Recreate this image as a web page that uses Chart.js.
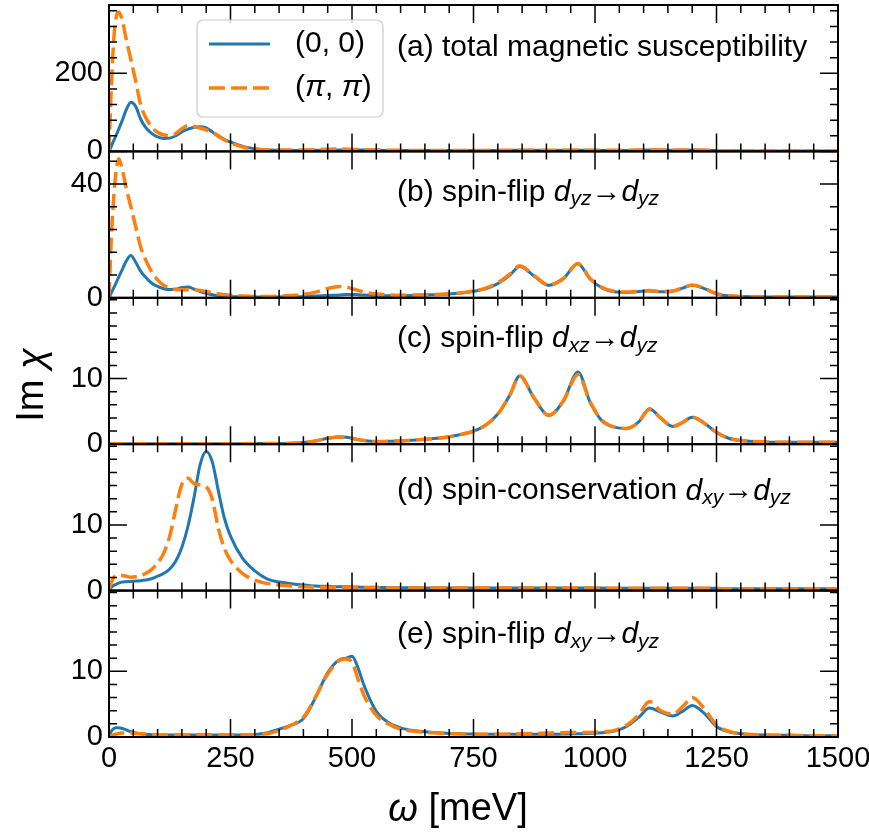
<!DOCTYPE html>
<html>
<head>
<meta charset="utf-8">
<script src="https://cdn.jsdelivr.net/npm/chart.js@4.4.1/dist/chart.umd.min.js"></script>
<style>
  html, body { margin: 0; padding: 0; background: #fff; }
</style>
</head>
<body>
<canvas id="chart" width="869" height="835"></canvas>
<script>
// energy grid (meV)
const omega = [
  0, 5, 10, 15, 20, 27.5, 35, 45, 55, 65,
  75, 87.5, 100, 112.5, 125, 137.5, 150, 162.5, 175, 187.5,
  200, 212.5, 225, 237.5, 250, 275, 300, 325, 350, 375,
  400, 425, 450, 475, 487.5, 500, 512.5, 525, 550, 575,
  600, 625, 650, 675, 700, 725, 750, 775, 800, 825,
  845, 875, 905, 935, 965, 990, 1015, 1040, 1065, 1090,
  1112, 1135, 1160, 1180, 1200, 1225, 1250, 1275, 1300, 1350,
  1400, 1450, 1500
];

// (a) total magnetic susceptibility
const aBlue = [
  0, 14, 28, 42, 57, 80, 105, 126, 115, 83,
  62, 46, 37, 33, 34, 40, 50, 57, 62, 63,
  60, 50, 38, 30, 24, 13, 7, 4, 3, 2.5,
  2.5, 2.8, 3.2, 3.6, 3.8, 3.8, 3.6, 3.3, 2.8, 2.5,
  2.3, 2.1, 2.0, 2.0, 2.0, 2.0, 2.1, 2.2, 2.4, 2.6,
  2.8, 2.7, 2.6, 2.7, 2.9, 2.8, 2.6, 2.5, 2.6, 3.0,
  3.6, 3.2, 2.8, 3.0, 3.3, 2.8, 2.0, 1.5, 1.2, 1.0,
  0.9, 0.8, 0.8
];
const aOrange = [
  0, 170, 290, 345, 357, 335, 290, 235, 180, 120,
  88, 63, 49, 42, 41, 46, 58, 66, 64, 60,
  55, 49, 40, 30, 22, 11, 6, 4, 3.5, 3.5,
  3.8, 4.5, 5.5, 6.0, 5.8, 5.3, 4.8, 4.2, 3.5, 3.0,
  2.7, 2.5, 2.4, 2.4, 2.4, 2.4, 2.5, 2.6, 2.8, 3.0,
  3.2, 3.0, 2.9, 3.0, 3.3, 3.1, 2.9, 2.8, 2.9, 3.4,
  4.2, 3.6, 3.1, 3.4, 3.8, 3.1, 2.2, 1.6, 1.3, 1.0,
  0.9, 0.8, 0.8
];

// (b) spin-flip dyz -> dyz
const bBlue = [
  0, 1.8, 3.6, 5.4, 7.3, 10, 12.8, 14.9, 12.5, 9.4,
  7.3, 5.2, 4.0, 3.2, 2.9, 3.0, 3.6, 3.8, 3.1, 2.2,
  1.6, 1.1, 0.8, 0.6, 0.5, 0.35, 0.3, 0.3, 0.3, 0.35,
  0.4, 0.6, 0.8, 1.0, 1.15, 1.2, 1.1, 0.95, 0.75, 0.7,
  0.7, 0.8, 1.0, 1.1, 1.35, 1.7, 2.3, 3.2, 5.0, 8.0,
  11.0, 7.6, 4.4, 6.8, 12.0, 6.6, 3.4, 2.1, 1.9, 2.2,
  2.4, 2.1, 2.3, 3.4, 4.4, 3.2, 1.4, 0.7, 0.45, 0.3,
  0.3, 0.3, 0.3
];
const bOrange = [
  0, 22, 36, 45, 48.9, 45, 39, 32, 25, 18,
  13.5, 9.2, 6.3, 4.4, 3.4, 2.9, 2.8, 2.8, 2.8, 2.6,
  2.2, 1.8, 1.4, 1.1, 0.9, 0.6, 0.5, 0.5, 0.6, 0.8,
  1.2, 2.0, 3.3, 4.0, 3.8, 3.2, 2.6, 2.0, 1.3, 1.0,
  0.9, 0.95, 1.05, 1.2, 1.4, 1.8, 2.4, 3.4, 5.3, 8.4,
  11.3, 7.8, 4.5, 6.8, 12.1, 6.8, 3.6, 2.3, 2.0, 2.3,
  2.6, 2.2, 2.4, 3.5, 4.5, 3.3, 1.5, 0.7, 0.45, 0.3,
  0.3, 0.3, 0.3
];

// (c) spin-flip dxz -> dyz
const cBlue = [
  0, 0.05, 0.05, 0.05, 0.05, 0.05, 0.05, 0.05, 0.05, 0.05,
  0.05, 0.05, 0.05, 0.05, 0.05, 0.05, 0.05, 0.05, 0.05, 0.05,
  0.05, 0.05, 0.05, 0.05, 0.05, 0.05, 0.1, 0.1, 0.1, 0.15,
  0.25, 0.5, 0.9, 1.1, 1.05, 0.9, 0.7, 0.55, 0.4, 0.45,
  0.5, 0.6, 0.75, 0.9, 1.15, 1.5, 2.0, 2.9, 4.6, 7.5,
  10.4, 7.0, 4.4, 6.6, 11.0, 6.4, 3.5, 2.6, 2.4, 3.4,
  5.4, 4.0, 2.7, 3.3, 4.1, 3.2, 1.8, 0.9, 0.55, 0.35,
  0.3, 0.3, 0.3
];
const cOrange = [
  0, 0.05, 0.05, 0.05, 0.05, 0.05, 0.05, 0.05, 0.05, 0.05,
  0.05, 0.05, 0.05, 0.05, 0.05, 0.05, 0.05, 0.05, 0.05, 0.05,
  0.05, 0.05, 0.05, 0.05, 0.05, 0.05, 0.1, 0.1, 0.1, 0.15,
  0.25, 0.5, 0.9, 1.1, 1.05, 0.9, 0.7, 0.55, 0.4, 0.45,
  0.5, 0.6, 0.75, 0.9, 1.15, 1.5, 2.0, 2.9, 4.6, 7.5,
  10.4, 7.0, 4.4, 6.6, 10.6, 6.4, 3.6, 2.6, 2.4, 3.4,
  5.3, 4.0, 2.7, 3.3, 4.1, 3.2, 1.8, 0.9, 0.55, 0.35,
  0.3, 0.3, 0.3
];

// (d) spin-conservation dxy -> dyz
const dBlue = [
  0, 0.5, 0.8, 1.0, 1.15, 1.3, 1.35, 1.4, 1.45, 1.5,
  1.6, 1.8, 2.2, 2.6, 3.3, 4.5, 6.6, 9.8, 14.2, 19.2,
  21.2, 19.6, 15.2, 11.0, 8.3, 4.9, 3.0, 1.8, 1.3, 1.05,
  0.85, 0.7, 0.65, 0.6, 0.6, 0.55, 0.55, 0.5, 0.5, 0.45,
  0.45, 0.45, 0.4, 0.4, 0.4, 0.4, 0.4, 0.4, 0.4, 0.4,
  0.4, 0.4, 0.4, 0.4, 0.4, 0.4, 0.4, 0.35, 0.35, 0.35,
  0.35, 0.35, 0.35, 0.35, 0.35, 0.35, 0.35, 0.3, 0.3, 0.3,
  0.3, 0.3, 0.3
];
const dOrange = [
  0, 1.3, 2.0, 2.3, 2.35, 2.3, 2.2, 2.05, 2.1, 2.3,
  2.6, 3.2, 4.2, 5.7, 8.3, 12.5, 16.2, 17.1, 16.3, 16.1,
  15.8, 13.9, 9.5, 6.4, 4.6, 2.6, 1.6, 1.1, 0.85, 0.7,
  0.6, 0.55, 0.5, 0.5, 0.5, 0.45, 0.45, 0.45, 0.45, 0.4,
  0.4, 0.4, 0.4, 0.4, 0.4, 0.4, 0.4, 0.4, 0.4, 0.4,
  0.4, 0.4, 0.4, 0.4, 0.4, 0.4, 0.35, 0.35, 0.35, 0.35,
  0.35, 0.35, 0.35, 0.35, 0.35, 0.35, 0.3, 0.3, 0.3, 0.3,
  0.3, 0.3, 0.3
];

// (e) spin-flip dxy -> dyz
const eBlue = [
  0, 0.9, 1.3, 1.4, 1.4, 1.3, 1.1, 0.8, 0.6, 0.5,
  0.4, 0.35, 0.3, 0.3, 0.3, 0.3, 0.3, 0.3, 0.3, 0.3,
  0.3, 0.3, 0.3, 0.3, 0.3, 0.3, 0.4, 0.6, 1.2, 1.8,
  2.8, 6.0, 9.8, 11.8, 12.0, 12.3, 10.5, 7.8, 3.9, 2.2,
  1.4, 1.0, 0.8, 0.65, 0.55, 0.5, 0.45, 0.4, 0.4, 0.4,
  0.4, 0.4, 0.4, 0.45, 0.5, 0.55, 0.65, 0.9, 1.6, 3.0,
  4.4, 3.8, 3.2, 3.9, 4.8, 3.6, 1.6, 0.8, 0.5, 0.3,
  0.25, 0.2, 0.2
];
const eOrange = [
  0, 0.2, 0.35, 0.45, 0.55, 0.6, 0.6, 0.6, 0.55, 0.5,
  0.45, 0.4, 0.35, 0.3, 0.3, 0.3, 0.3, 0.3, 0.3, 0.3,
  0.3, 0.3, 0.3, 0.3, 0.3, 0.3, 0.35, 0.5, 1.0, 1.8,
  3.0, 6.1, 9.6, 11.7, 11.9, 11.4, 8.8, 6.3, 3.3, 2.0,
  1.2, 0.9, 0.7, 0.6, 0.5, 0.45, 0.4, 0.4, 0.4, 0.45,
  0.5, 0.55, 0.6, 0.65, 0.7, 0.7, 0.8, 1.0, 1.8, 3.4,
  5.4, 4.0, 3.5, 4.6, 6.0, 4.3, 1.8, 0.9, 0.5, 0.3,
  0.25, 0.2, 0.2
];

const seriesLabels = ['(0, 0)', '(π, π)'];
const xTicks = [0, 250, 500, 750, 1000, 1250, 1500];

const FONT = '"Liberation Sans", Arial, sans-serif';
const BLUE = '#1f77b4';
const ORANGE = '#ff7f0e';

// one entry per stacked panel, top to bottom
const panels = [
  { id: 'ya', max: 375, majors: [0, 200], minor: 40, blue: aBlue, orange: aOrange, textDy: 43,
    text: [{ t: '(a) total magnetic susceptibility' }] },
  { id: 'yb', max: 51.5, majors: [0, 40], minor: 8, blue: bBlue, orange: bOrange, textDy: 41,
    text: [{ t: '(b) spin-flip ' }, { t: 'd', it: 1 }, { t: 'yz', it: 1, sub: 1 }, { t: '→' }, { t: 'd', it: 1 }, { t: 'yz', it: 1, sub: 1 }] },
  { id: 'yc', max: 22.3, majors: [0, 10], minor: 2, blue: cBlue, orange: cOrange, textDy: 41,
    text: [{ t: '(c) spin-flip ' }, { t: 'd', it: 1 }, { t: 'xz', it: 1, sub: 1 }, { t: '→' }, { t: 'd', it: 1 }, { t: 'yz', it: 1, sub: 1 }] },
  { id: 'yd', max: 22.3, majors: [0, 10], minor: 2, blue: dBlue, orange: dOrange, textDy: 47,
    text: [{ t: '(d) spin-conservation ' }, { t: 'd', it: 1 }, { t: 'xy', it: 1, sub: 1 }, { t: '→' }, { t: 'd', it: 1 }, { t: 'yz', it: 1, sub: 1 }] },
  { id: 'ye', max: 22.3, majors: [0, 10], minor: 2, blue: eBlue, orange: eOrange, textDy: 44,
    text: [{ t: '(e) spin-flip ' }, { t: 'd', it: 1 }, { t: 'xy', it: 1, sub: 1 }, { t: '→' }, { t: 'd', it: 1 }, { t: 'yz', it: 1, sub: 1 }] },
];

const pts = arr => omega.map((w, i) => ({ x: w, y: arr[i] }));

const datasets = [];
panels.forEach(p => {
  datasets.push({
    label: seriesLabels[0], yAxisID: p.id, data: pts(p.blue),
    borderColor: BLUE, borderWidth: 3, pointRadius: 0, order: 1,
    cubicInterpolationMode: 'monotone', fill: false
  });
  datasets.push({
    label: seriesLabels[1], yAxisID: p.id, data: pts(p.orange),
    borderColor: ORANGE, borderWidth: 3.5, borderDash: [16, 6], pointRadius: 0, order: 0,
    cubicInterpolationMode: 'monotone', fill: false
  });
});

const tickFont = { family: FONT, size: 29 };
const noPad = s => { s.paddingTop = 0; s.paddingBottom = 0; s.paddingLeft = 0; s.paddingRight = 0; };

const scales = {
  x: {
    type: 'linear', min: 0, max: 1500,
    grid: { display: false, drawTicks: false }, border: { display: false },
    ticks: { color: '#000', font: tickFont, padding: 5, maxRotation: 0, callback: v => String(v) },
    afterBuildTicks: s => { s.ticks = xTicks.map(v => ({ value: v })); },
    afterFit: s => { s.height = 98; noPad(s); }
  }
};
// layout puts the last left axis on top, so add them bottom-up
panels.slice().reverse().forEach(p => {
  scales[p.id] = {
    type: 'linear', position: 'left', stack: 'panels', stackWeight: 1,
    min: 0, max: p.max,
    grid: { display: false, drawTicks: false }, border: { display: false },
    ticks: { color: '#000', font: tickFont, padding: 6, callback: v => String(v) },
    afterBuildTicks: s => { s.ticks = p.majors.map(v => ({ value: v })); },
    afterFit: s => { s.width = 109; noPad(s); }
  };
});

function drawRich(ctx, segs, x, y, size) {
  segs.forEach(s => {
    const fs = s.sub ? size * 0.7 : size;
    ctx.font = (s.it ? 'italic ' : '') + fs + 'px ' + FONT;
    ctx.fillText(s.t, x, y + (s.sub ? size * 0.24 : 0));
    x += ctx.measureText(s.t).width;
  });
  return x;
}
function richWidth(ctx, segs, size) {
  let w = 0;
  segs.forEach(s => {
    const fs = s.sub ? size * 0.7 : size;
    ctx.font = (s.it ? 'italic ' : '') + fs + 'px ' + FONT;
    w += ctx.measureText(s.t).width;
  });
  return w;
}
// italic pi like mathtext
const labelSegs = str => str.split(/(π)/).filter(Boolean).map(t => (t === 'π' ? { t, it: 1 } : { t }));

const decor = {
  id: 'decor',
  afterDraw(chart) {
    const ctx = chart.ctx;
    const xs = chart.scales.x;
    const L = xs.left, R = xs.right;
    ctx.save();
    ctx.strokeStyle = '#000';
    ctx.fillStyle = '#000';

    panels.forEach(p => {
      const ys = chart.scales[p.id];
      const T = ys.top, B = ys.bottom;
      ctx.lineWidth = 1.5;
      ctx.beginPath();
      for (let v = 0; v <= 1500; v += 50) {
        const len = v % 250 === 0 ? 18 : 8;
        const px = xs.getPixelForValue(v);
        ctx.moveTo(px, B); ctx.lineTo(px, B - len);
        ctx.moveTo(px, T); ctx.lineTo(px, T + len);
      }
      for (let v = 0; v < p.max; v += p.minor) {
        const len = p.majors.includes(v) ? 18 : 8;
        const py = ys.getPixelForValue(v);
        ctx.moveTo(L, py); ctx.lineTo(L + len, py);
        ctx.moveTo(R, py); ctx.lineTo(R - len, py);
      }
      ctx.stroke();
      ctx.lineWidth = 2;
      ctx.strokeRect(L, T, R - L, B - T);

      ctx.textBaseline = 'middle';
      ctx.textAlign = 'left';
      drawRich(ctx, p.text, L + 288, T + p.textDy, 30);
    });

    // legend in panel (a)
    const top = chart.scales.ya.top;
    const lx = L + 88, ly = top + 15, lw = 186, lh = 97;
    ctx.beginPath();
    ctx.roundRect(lx, ly, lw, lh, 6);
    ctx.fillStyle = 'rgba(255,255,255,0.8)';
    ctx.fill();
    ctx.strokeStyle = '#cccccc';
    ctx.lineWidth = 1.2;
    ctx.stroke();
    [chart.data.datasets[0], chart.data.datasets[1]].forEach((ds, i) => {
      const y = ly + 24 + i * 44;
      ctx.strokeStyle = ds.borderColor;
      ctx.lineWidth = ds.borderWidth;
      ctx.setLineDash(ds.borderDash || []);
      ctx.beginPath();
      ctx.moveTo(lx + 12, y); ctx.lineTo(lx + 73, y);
      ctx.stroke();
      ctx.setLineDash([]);
      ctx.fillStyle = '#000';
      ctx.textBaseline = 'middle';
      drawRich(ctx, labelSegs(ds.label), lx + 98, y, 30);
    });

    // axis titles
    ctx.fillStyle = '#000';
    ctx.textBaseline = 'middle';
    const ySegs = [{ t: 'Im ' }, { t: 'χ', it: 1 }];
    const yw = richWidth(ctx, ySegs, 38);
    ctx.save();
    ctx.translate(33, 385);
    ctx.rotate(-Math.PI / 2);
    drawRich(ctx, ySegs, -yw / 2, 0, 38);
    ctx.restore();

    const xSegs = [{ t: 'ω', it: 1 }, { t: ' [meV]' }];
    const xw = richWidth(ctx, xSegs, 38);
    drawRich(ctx, xSegs, 458 - xw / 2, 810, 38);
    ctx.restore();
  }
};

new Chart(document.getElementById('chart'), {
  type: 'line',
  data: { datasets },
  options: {
    responsive: false,
    animation: false,
    layout: { padding: { left: 0, right: 31, top: 5, bottom: 0 } },
    scales,
    plugins: { legend: { display: false }, tooltip: { enabled: false } }
  },
  plugins: [decor]
});
</script>
</body>
</html>
